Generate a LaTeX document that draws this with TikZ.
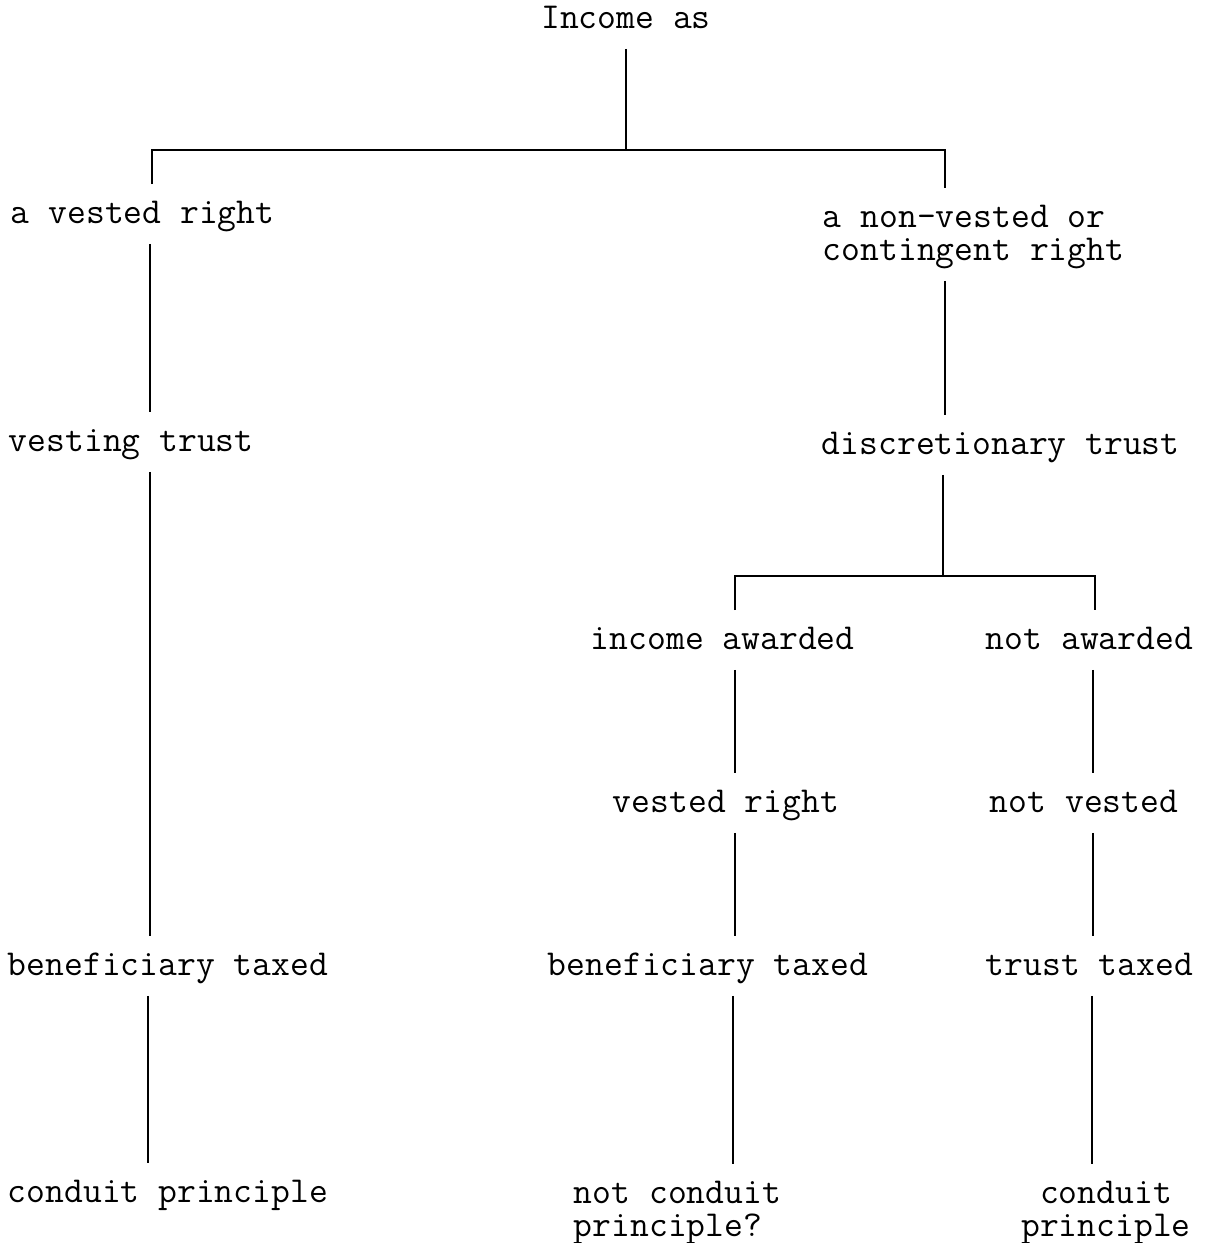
\documentclass[tikz,border=0pt]{standalone}
\usepackage{fontspec}
\usepackage{tikz}
\usetikzlibrary{positioning,calc}

\newcommand{\topstrut}{\rule{0pt}{22pt}}
\newcommand{\botstrut}{\rule[-11pt]{0pt}{11pt}}

\begin{document}
\begin{tikzpicture}[x=0.02cm,y=-0.02cm,line width=1.1pt,
		label/.style={inner sep=0pt,text height=22pt,text depth=11pt,font=\ttfamily\fontsize{20.8pt}{18.8pt}\selectfont},
		twoline/.style={inner sep=0pt,font=\ttfamily\fontsize{20.8pt}{18.8pt}\selectfont}]
		
		\useasboundingbox (0,0) rectangle (1206,1243);
		
		% Top
		\node[label] (inc) at (626,19) {Income as};
		\coordinate (j1) at (626,150);
		
		% Left branch
		\node[label,anchor=west] (vr) at (10,214) {a vested right};
		\node[label,anchor=west] (vt) at (8,442) {vesting trust};
		\node[label,anchor=west] (bt1) at (7,966) {beneficiary taxed};
		\node[label,anchor=west] (cp1) at (7,1193) {conduit principle};
		
		% Right branch
		\node[twoline,align=left,anchor=north west] (nv) at (822,188)
		{\topstrut a non-vested or\\contingent right\botstrut};
		\node[label,anchor=west] (dt) at (821,445) {discretionary trust};
		\coordinate (j2) at (943,576);
		
		\node[label,anchor=west] (ia) at (590,640) {income awarded};
		\node[label,anchor=west] (vd) at (612,803) {vested right};
		\node[label,anchor=west] (bt2) at (547,966) {beneficiary taxed};
		\node[twoline,align=left,anchor=north west] (ncp) at (573,1164)
		{\topstrut not conduit\\principle?\botstrut};
		
		\node[label,anchor=west] (na) at (985,640) {not awarded};
		\node[label,anchor=west] (nvd) at (989,803) {not vested};
		\node[label,anchor=west] (tt) at (985,966) {trust taxed};
		\node[twoline,align=center,anchor=north] (cp2) at (1106,1164)
		{\topstrut conduit\\principle\botstrut};
		
		% Connectors
		\draw (inc.south) -- (j1);
		\draw (vr.north -| 152,0) |- (j1) -| (nv.north -| 945,0);
		
		\draw (vr.south -| 150,0) -- (vt.north -| 150,0);
		\draw (vt.south -| 150,0) -- (bt1.north -| 150,0);
		\draw (bt1.south -| 148,0) -- (cp1.north -| 148,0);
		
		\draw (nv.south -| 945,0) -- (dt.north -| 945,0);
		\draw (dt.south -| 943,0) -- (j2);
		\draw (ia.north -| 735,0) |- (j2) -| (na.north -| 1095,0);
		
		\draw (ia.south -| 735,0) -- (vd.north -| 735,0);
		\draw (vd.south -| 735,0) -- (bt2.north -| 735,0);
		\draw (bt2.south -| 733,0) -- (ncp.north -| 733,0);
		
		\draw (na.south -| 1093,0) -- (nvd.north -| 1093,0);
		\draw (nvd.south -| 1093,0) -- (tt.north -| 1093,0);
		\draw (tt.south -| 1092,0) -- (cp2.north -| 1092,0);
		
	\end{tikzpicture}
\end{document}
